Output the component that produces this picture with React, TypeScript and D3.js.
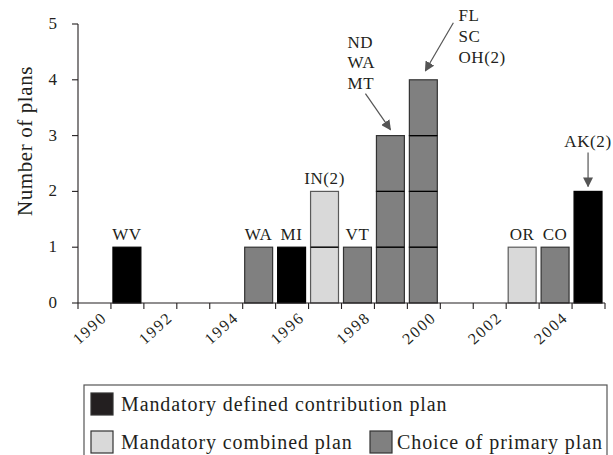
import React from 'react'
import * as d3 from 'd3'

// plan adoptions by year
const years = [1990, 1994, 1995, 1996, 1997, 1998, 1999, 2002, 2003, 2004];
const counts = [1, 1, 1, 2, 1, 3, 4, 1, 1, 2];
const planTypes = ['dc', 'choice', 'dc', 'combined', 'choice', 'choice', 'choice', 'combined', 'choice', 'dc'];
const stateLabels = ['WV', 'WA', 'MI', 'IN(2)', 'VT', 'ND\nWA\nMT', 'FL\nSC\nOH(2)', 'OR', 'CO', 'AK(2)'];
// AK pair is drawn as one block in the source
const segmented = [true, true, true, true, true, true, true, true, true, false];

const yTicks = [0, 1, 2, 3, 4, 5];
const xLabelYears = [1990, 1992, 1994, 1996, 1998, 2000, 2002, 2004];

const legendItems = [
  { key: 'dc', label: 'Mandatory defined contribution plan' },
  { key: 'combined', label: 'Mandatory combined plan' },
  { key: 'choice', label: 'Choice of primary plan' },
];

const fills = { dc: '#000000', combined: '#d9d9d9', choice: '#808080' };
const strokes = { dc: '#000000', combined: '#5a5a5a', choice: '#333333' };
const legendFills = { dc: '#231f20', combined: '#d9d9d9', choice: '#808080' };

const width = 613;
const height = 455;
const font = '"Liberation Serif", "Times New Roman", serif';
const ink = '#231f20';

const xScale = d3.scaleLinear().domain([1989, 2005]).range([78, 605]);
const yScale = d3.scaleLinear().domain([0, 5]).range([303, 24]);
const step = xScale(1990) - xScale(1989);

// callouts with arrows (text offsets relative to bar, pixels)
const callouts = {
  1998: { tx: -29, ty: -88, lineH: 20.5, anchor: 'start', from: [-11, -42], to: [14, -6] },
  1999: { tx: 49, ty: -59, lineH: 21, anchor: 'start', from: [44, -57], to: [16, -9] },
  2004: { tx: 14, ty: -44, lineH: 20, anchor: 'middle', from: [14, -39], to: [14, -5] },
};

const Bar = ({ year, count, type, split }) => {
  const x0 = xScale(year) + 2;
  const w = step - 5;
  const units = split ? d3.range(count).map((i) => [i, i + 1]) : [[0, count]];
  return (
    <g>
      {units.map(([a, b], i) => (
        <rect
          key={i}
          x={x0}
          y={yScale(b)}
          width={w}
          height={yScale(a) - yScale(b)}
          fill={fills[type]}
          stroke={strokes[type]}
          strokeWidth={1.2}
        />
      ))}
      {split && count > 1 &&
        d3.range(1, count).map((i) => (
          <line key={'s' + i} x1={x0} x2={x0 + w} y1={yScale(i)} y2={yScale(i)} stroke="#000" strokeWidth={1.2} />
        ))}
    </g>
  );
};

const BarLabel = ({ year, count, label }) => {
  const x0 = xScale(year) + 2;
  const top = yScale(count);
  const c = callouts[year];
  if (!c) {
    return (
      <text x={x0 + (step - 5) / 2} y={top - 7} textAnchor="middle" fontSize={17} fill={ink} letterSpacing={0.6}>
        {label}
      </text>
    );
  }
  const lines = label.split('\n');
  return (
    <g>
      {lines.map((l, i) => (
        <text key={i} x={x0 + c.tx} y={top + c.ty + i * c.lineH} textAnchor={c.anchor} fontSize={17} fill={ink} letterSpacing={0.6}>
          {l}
        </text>
      ))}
      <line
        x1={x0 + c.from[0]}
        y1={top + c.from[1]}
        x2={x0 + c.to[0]}
        y2={top + c.to[1]}
        stroke="#555"
        strokeWidth={1.2}
        markerEnd="url(#arrowhead)"
      />
    </g>
  );
};

const Axes = () => (
  <g fill="none" stroke={ink} strokeWidth={1.1}>
    <line x1={78} x2={78} y1={yScale(5)} y2={yScale(0)} />
    <line x1={xScale(1989)} x2={xScale(2005)} y1={yScale(0)} y2={yScale(0)} />
    {yTicks.map((t) => (
      <line key={t} x1={72} x2={78} y1={yScale(t)} y2={yScale(t)} />
    ))}
    {d3.range(1989, 2006).map((yr) => (
      <line key={yr} x1={xScale(yr)} x2={xScale(yr)} y1={yScale(0)} y2={yScale(0) + 6} />
    ))}
  </g>
);

const AxisLabels = () => (
  <g fill={ink} fontFamily={font}>
    {yTicks.map((t) => (
      <text key={t} x={57} y={yScale(t) + 5} textAnchor="end" fontSize={17}>
        {t}
      </text>
    ))}
    {xLabelYears.map((yr) => (
      <text
        key={yr}
        transform={`translate(${xScale(yr) - 3},${yScale(0) + 16}) rotate(-42)`}
        textAnchor="end"
        fontSize={16}
        letterSpacing={1.8}
      >
        {yr}
      </text>
    ))}
    <text transform="translate(32,141) rotate(-90)" textAnchor="middle" fontSize={21} letterSpacing={0.6}>
      Number of plans
    </text>
  </g>
);

const Legend = () => {
  const pos = [
    { x: 91, y: 393, tx: 121, ty: 411 },
    { x: 91, y: 431, tx: 121, ty: 449 },
    { x: 370, y: 431, tx: 397, ty: 449 },
  ];
  return (
    <g fontFamily={font}>
      <rect x={84} y={385} width={523} height={100} fill="none" stroke="#555" strokeWidth={1.2} />
      {legendItems.map((d, i) => (
        <g key={d.key}>
          <rect x={pos[i].x} y={pos[i].y} width={22} height={22} fill={legendFills[d.key]} stroke="#333" strokeWidth={1.2} />
          <text x={pos[i].tx} y={pos[i].ty} fontSize={20} fill={ink} letterSpacing={0.9}>
            {d.label}
          </text>
        </g>
      ))}
    </g>
  );
};

export default function App() {
  return (
    <svg
      width={width}
      height={height}
      style={{ position: 'absolute', left: 0, top: 0, background: '#fff' }}
      fontFamily={font}
    >
      <defs>
        <marker id="arrowhead" viewBox="0 0 10 10" refX={9} refY={5} markerWidth={10} markerHeight={10} markerUnits="userSpaceOnUse" orient="auto">
          <path d="M0,0 L10,5 L0,10 Z" fill="#555" />
        </marker>
      </defs>
      {years.map((yr, i) => (
        <Bar key={yr} year={yr} count={counts[i]} type={planTypes[i]} split={segmented[i]} />
      ))}
      <Axes />
      <AxisLabels />
      {years.map((yr, i) => (
        <BarLabel key={yr} year={yr} count={counts[i]} label={stateLabels[i]} />
      ))}
      <Legend />
    </svg>
  );
}
